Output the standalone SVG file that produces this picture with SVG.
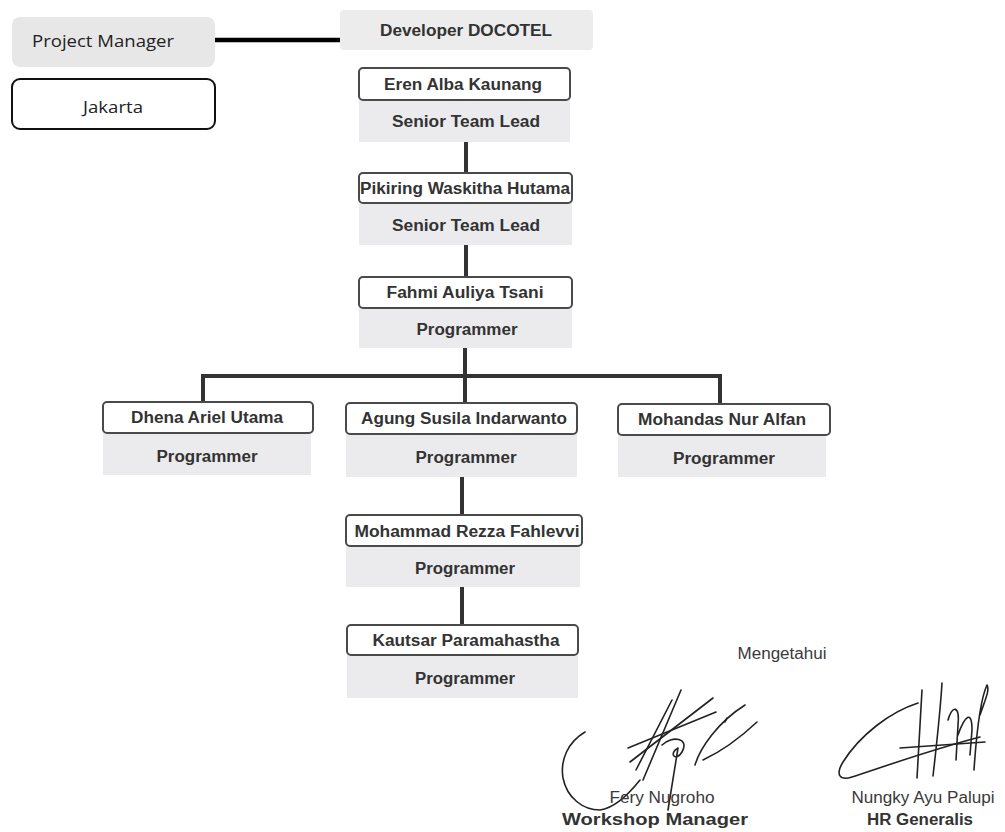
<svg xmlns="http://www.w3.org/2000/svg" width="1005" height="832" viewBox="0 0 1005 832">
<defs>
<style>
.name{fill:#fff;stroke:#4a4a4a;stroke-width:2}
.role{fill:#ebebee}
.t{font-family:"Liberation Sans",Arial,sans-serif;font-weight:bold;font-size:16px;fill:#333;text-anchor:middle}
.r{font-family:"Liberation Sans",Arial,sans-serif;font-size:16px;fill:#3a3a3a;text-anchor:middle}
.c{font-family:"Open Sans","Noto Sans",sans-serif;font-size:17px;fill:#222;text-anchor:middle}
.conn{stroke:#333;stroke-width:4;fill:none;stroke-linecap:butt}
.pm{stroke:#000;stroke-width:4.5}
.sig{stroke:#222;stroke-width:1.6;fill:none;stroke-linecap:round;stroke-linejoin:round}
</style>
</defs>
<rect width="1005" height="832" fill="#fff"/>

<g id="connectors">
<line class="conn pm" x1="215" y1="40" x2="340" y2="40"/>
<line class="conn" x1="466" y1="142" x2="466" y2="173"/>
<line class="conn" x1="466" y1="245" x2="466" y2="277"/>
<line class="conn" x1="465" y1="348" x2="465" y2="376"/>
<polyline class="conn" points="203,402 203,376 720,376 720,404"/>
<line class="conn" x1="465" y1="376" x2="465" y2="403"/>
<line class="conn" x1="462" y1="477" x2="462" y2="515"/>
<line class="conn" x1="462" y1="587" x2="462" y2="625"/>
</g>

<g id="project-manager">
<rect x="12" y="17" width="203" height="50" rx="8" fill="#e7e7e7"/>
<text class="c" x="103" y="47" textLength="142" lengthAdjust="spacingAndGlyphs">Project Manager</text>
</g>

<g id="jakarta">
<rect x="12" y="79" width="203" height="50" rx="8" fill="#fff" stroke="#111" stroke-width="2"/>
<text class="c" x="113" y="113" textLength="60" lengthAdjust="spacingAndGlyphs">Jakarta</text>
</g>

<g id="developer-docotel">
<rect x="340" y="10" width="253" height="40" rx="4" fill="#ececec"/>
<text class="t" x="466" y="36" textLength="172" lengthAdjust="spacingAndGlyphs">Developer DOCOTEL</text>
</g>

<g id="eren">
<rect class="role" x="359" y="100" width="211" height="42"/>
<rect class="name" x="359" y="68" width="211" height="32" rx="4"/>
<text class="t" x="463" y="90" textLength="158" lengthAdjust="spacingAndGlyphs">Eren Alba Kaunang</text>
<text class="t" x="466" y="127" textLength="148" lengthAdjust="spacingAndGlyphs">Senior Team Lead</text>
</g>

<g id="pikiring">
<rect class="role" x="359" y="203" width="213" height="42"/>
<rect class="name" x="359" y="173" width="213" height="30" rx="4"/>
<text class="t" x="465" y="194" textLength="210" lengthAdjust="spacingAndGlyphs">Pikiring Waskitha Hutama</text>
<text class="t" x="466" y="231" textLength="148" lengthAdjust="spacingAndGlyphs">Senior Team Lead</text>
</g>

<g id="fahmi">
<rect class="role" x="359" y="308" width="213" height="40"/>
<rect class="name" x="359" y="277" width="213" height="31" rx="4"/>
<text class="t" x="465" y="298" textLength="157" lengthAdjust="spacingAndGlyphs">Fahmi Auliya Tsani</text>
<text class="t" x="467" y="335" textLength="101" lengthAdjust="spacingAndGlyphs">Programmer</text>
</g>

<g id="dhena">
<rect class="role" x="103" y="433" width="208" height="42"/>
<rect class="name" x="103" y="402" width="210" height="31" rx="4"/>
<text class="t" x="207" y="423" textLength="152" lengthAdjust="spacingAndGlyphs">Dhena Ariel Utama</text>
<text class="t" x="207" y="462" textLength="101" lengthAdjust="spacingAndGlyphs">Programmer</text>
</g>

<g id="agung">
<rect class="role" x="346" y="434" width="231" height="43"/>
<rect class="name" x="346" y="403" width="231" height="31" rx="4"/>
<text class="t" x="464" y="424" textLength="206" lengthAdjust="spacingAndGlyphs">Agung Susila Indarwanto</text>
<text class="t" x="466" y="463" textLength="101" lengthAdjust="spacingAndGlyphs">Programmer</text>
</g>

<g id="mohandas">
<rect class="role" x="618" y="435" width="208" height="42"/>
<rect class="name" x="618" y="404" width="212" height="31" rx="4"/>
<text class="t" x="722" y="425" textLength="168" lengthAdjust="spacingAndGlyphs">Mohandas Nur Alfan</text>
<text class="t" x="724" y="464" textLength="102" lengthAdjust="spacingAndGlyphs">Programmer</text>
</g>

<g id="mohammad">
<rect class="role" x="346" y="546" width="234" height="41"/>
<rect class="name" x="346" y="515" width="236" height="31" rx="4"/>
<text class="t" x="467" y="537" textLength="225" lengthAdjust="spacingAndGlyphs">Mohammad Rezza Fahlevvi</text>
<text class="t" x="465" y="574" textLength="100" lengthAdjust="spacingAndGlyphs">Programmer</text>
</g>

<g id="kautsar">
<rect class="role" x="347" y="655" width="231" height="43"/>
<rect class="name" x="347" y="625" width="231" height="30" rx="4"/>
<text class="t" x="466" y="646" textLength="187" lengthAdjust="spacingAndGlyphs">Kautsar Paramahastha</text>
<text class="t" x="465" y="684" textLength="100" lengthAdjust="spacingAndGlyphs">Programmer</text>
</g>

<g id="approval">
<text class="r" x="782" y="659" textLength="89" lengthAdjust="spacingAndGlyphs">Mengetahui</text>
<path class="sig" d="M585,732 C568,742 560,760 563,778 C567,798 583,810 600,810 C615,808 628,795 640,780"/>
<path class="sig" d="M643,780 L681,690"/>
<path class="sig" d="M636,770 L672,700"/>
<path class="sig" d="M630,762 L713,698"/>
<path class="sig" d="M628,748 L716,712"/>
<path class="sig" d="M662,745 C672,735 690,738 682,752 C676,762 668,754 678,748 L668,810"/>
<path class="sig" d="M695,765 C700,748 718,722 745,705 M703,760 C720,752 740,738 757,722"/>
<path class="sig" d="M725,722 L727,718"/>
<path class="sig" d="M918,703 C890,712 860,735 843,762 C835,775 840,781 852,777 C880,768 930,750 980,737"/>
<path class="sig" d="M922,690 L917,778"/>
<path class="sig" d="M942,683 C940,715 936,750 933,776"/>
<path class="sig" d="M948,720 C952,705 960,705 958,725 L956,760 M958,735 C965,715 972,710 972,730 L970,755"/>
<path class="sig" d="M980,715 C985,700 990,690 987,685 C980,700 976,740 974,770"/>
<path class="sig" d="M900,748 L985,742"/>
<text class="r" x="662" y="803" textLength="105" lengthAdjust="spacingAndGlyphs">Fery Nugroho</text>
<text class="t" x="655" y="825" textLength="186" lengthAdjust="spacingAndGlyphs">Workshop Manager</text>
<text class="r" x="923" y="803" textLength="143" lengthAdjust="spacingAndGlyphs">Nungky Ayu Palupi</text>
<text class="t" x="920" y="825" textLength="106" lengthAdjust="spacingAndGlyphs">HR Generalis</text>
</g>
</svg>
